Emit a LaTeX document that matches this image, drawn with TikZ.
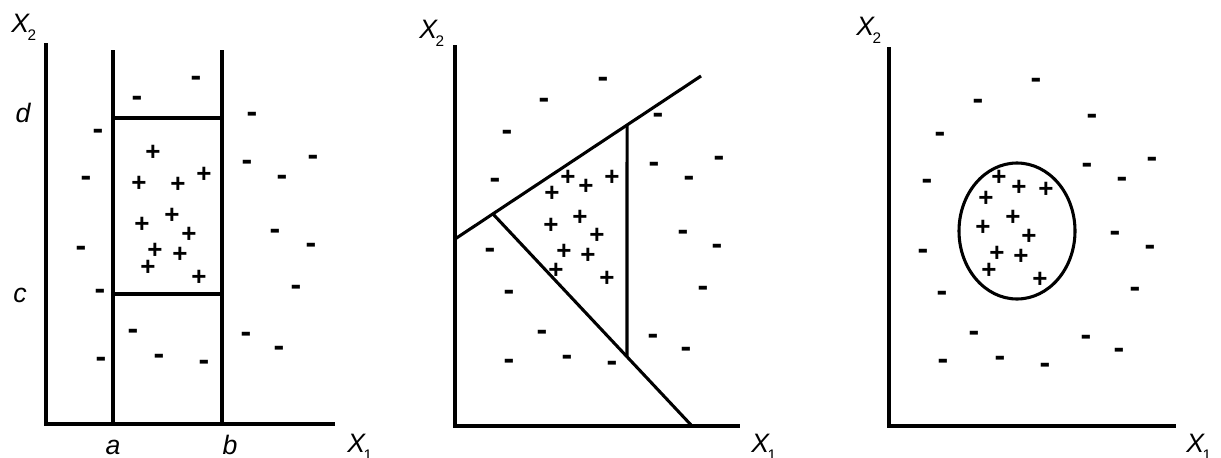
\documentclass[tikz,border=0pt]{standalone}
\usepackage{fontspec}
\setmainfont{Liberation Sans}
\newcommand\lowsub[1]{\raisebox{-6pt}{\fontsize{11.5}{12}\selectfont\upshape #1}}
\begin{document}
\begin{tikzpicture}[x=0.75pt,y=-0.75pt,
  ax/.style={line width=2.4pt},
  bd/.style={line width=2.3pt},
  minusmark/.style={font=\fontsize{24}{24}\selectfont\bfseries, anchor=base, yshift=-5.9pt, inner sep=0pt},
  plusmark/.style={font=\fontsize{19.5}{20}\selectfont\bfseries, anchor=base, yshift=-6.6pt, inner sep=0pt},
  lab/.style={font=\fontsize{20}{20}\selectfont\itshape, inner sep=0pt, anchor=base},
  labw/.style={lab, anchor=base west}]
\useasboundingbox (0,0) rectangle (1221,457);
% ---------- Panel 1 ----------
\coordinate (o1) at (46,424);
\coordinate (y1) at (46,43);
\coordinate (x1) at (335,424);
\coordinate (aTop) at (113,50);
\coordinate (aBot) at (113,424);
\coordinate (bTop) at (222,50);
\coordinate (bBot) at (222,424);
\coordinate (dLeft) at (113,118);
\coordinate (dRight) at (222,118);
\coordinate (cLeft) at (113,294);
\coordinate (cRight) at (222,294);
\draw[ax] (y1) -- (o1) -- (x1);
\draw[bd] (aTop) -- (aBot);
\draw[bd] (bTop) -- (bBot);
\draw[bd] (dLeft) -- (dRight);
\draw[bd] (cLeft) -- (cRight);
\node[labw] (X2a) at (11,32) {X\kern-1pt\lowsub{2}};
\node[labw] (X1a) at (347,452) {X\kern-1pt\lowsub{1}};
\node[lab] (ld) at (23,122) {d};
\node[lab] (lc) at (20,302) {c};
\node[lab] (la) at (113,454) {a};
\node[lab] (lb) at (230,454) {b};
\foreach \p [count=\i] in {(196,79),(137,99),(252,115),(98,132),(247,163),(313,158),(86,179),(282,178),(81,249),(275,232),(311,246),(100,292),(296,288),(133,332),(246,335),(279,349),(101,360),(159,357),(204,363)}
  \node[minusmark] (m1-\i) at \p {-};
\foreach \p [count=\i] in {(153,152),(139,183),(178,184),(204,174),(142,224),(172,215),(189,234),(155,250),(180,254),(148,267),(199,277)}
  \node[plusmark] (p1-\i) at \p {+};
% ---------- Panel 2 ----------
\coordinate (o2) at (455,426);
\coordinate (y2) at (455,45);
\coordinate (x2) at (740,426);
\coordinate (u1) at (455,239);
\coordinate (u2) at (701,76);
\coordinate (l2) at (692,426);
\coordinate (v0) at (627,0);
\coordinate (v9) at (627,457);
\coordinate (lt) at (493,214);
\coordinate (vt) at (intersection of u1--u2 and v0--v9);
\coordinate (vb) at (intersection of lt--l2 and v0--v9);
\draw[ax] (y2) -- (o2) -- (x2);
\draw[bd] (u1) -- (u2);
\draw[bd] (lt) -- (l2);
\draw[bd] (vt) -- (vb);
\node[labw] (X2b) at (419,38) {X\kern-1pt\lowsub{2}};
\node[labw] (X1b) at (751,452) {X\kern-1pt\lowsub{1}};
\foreach \p [count=\i] in {(603,80),(544,101),(658,116),(507,133),(654,165),(719,159),(495,181),(689,179),(490,251),(683,233),(717,247),(509,293),(703,289),(542,333),(653,337),(686,350),(509,362),(567,358),(612,364)}
  \node[minusmark] (m2-\i) at \p {-};
\foreach \p [count=\i] in {(568,177),(586,186),(612,177),(552,193),(580,217),(551,225),(597,235),(564,251),(588,255),(556,270),(607,278)}
  \node[plusmark] (p2-\i) at \p {+};
% ---------- Panel 3 ----------
\coordinate (o3) at (889,426);
\coordinate (y3) at (889,47);
\coordinate (x3) at (1176,426);
\coordinate (ec) at (1017,231);
\draw[ax] (y3) -- (o3) -- (x3);
\draw[bd] (ec) ellipse [x radius=43.5pt, y radius=51pt];
\node[labw] (X2c) at (856,35) {X\kern-1pt\lowsub{2}};
\node[labw] (X1c) at (1186,452) {X\kern-1pt\lowsub{1}};
\foreach \p [count=\i] in {(1036,81),(978,102),(1092,117),(940,135),(1087,166),(1152,160),(927,182),(1122,180),(923,252),(1115,234),(1150,248),(942,294),(1135,290),(974,334),(1086,338),(1119,351),(943,362),(1000,359),(1045,366)}
  \node[minusmark] (m3-\i) at \p {-};
\foreach \p [count=\i] in {(999,177),(1019,187),(1046,189),(986,198),(1013,217),(983,227),(1029,236),(997,253),(1021,256),(989,270),(1040,279)}
  \node[plusmark] (p3-\i) at \p {+};
\end{tikzpicture}
\end{document}
